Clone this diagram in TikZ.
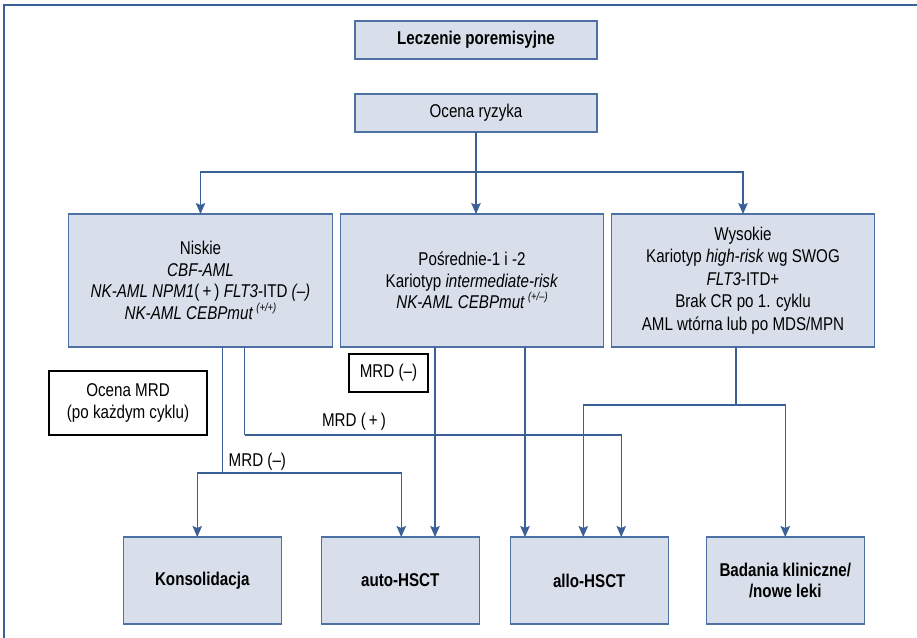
\documentclass[tikz,border=0pt]{standalone}
\usepackage{fontspec}
\setmainfont{Liberation Sans}[FakeStretch=0.82]
\usepackage{xcolor}
\usetikzlibrary{positioning, arrows.meta, calc}
\definecolor{boxFill}{RGB}{216,223,234}
\definecolor{boxLine}{RGB}{78,113,163}
\definecolor{linkColor}{RGB}{58,96,150}
\newcommand{\txtsize}{\fontsize{18.5}{21.7}\selectfont}
\newcommand{\supmut}[1]{\,\raisebox{8pt}{\fontsize{11.5}{12}\selectfont\itshape #1}}
\tikzset{
    flowbox/.style={
        draw=boxLine,
        fill=boxFill,
        line width=1.3pt,
        align=center,
        inner sep=0pt,
        outer sep=0pt,
        font=\txtsize
    },
    titlebox/.style={
        flowbox,
        minimum width=242pt,
        minimum height=38pt
    },
    riskbox/.style={
        flowbox,
        minimum width=263pt,
        minimum height=133pt
    },
    therapybox/.style={
        flowbox,
        minimum width=158pt,
        minimum height=87pt,
        font=\txtsize\bfseries
    },
    notebox/.style={
        draw=black,
        line width=1.3pt,
        fill=white,
        align=center,
        inner sep=0pt,
        outer sep=0pt,
        font=\txtsize
    },
    lbl/.style={
        font=\txtsize,
        inner sep=0pt
    },
    link/.style={
        draw=linkColor,
        line width=1.3pt
    },
    ptr/.style={
        link,
        -{Stealth[length=11pt,width=9.5pt,inset=2pt]},
        color=linkColor
    }
}

\begin{document}
\begin{tikzpicture}[x=1pt, y=-1pt]
    \useasboundingbox (0,0) rectangle (917,637);
    \draw[link] (4,645) -- (4,5) -- (925,5);

    \node[titlebox, font=\txtsize\bfseries] (title) at (476,40) {Leczenie poremisyjne};
    \node[titlebox, below=35pt of title] (ocena) {Ocena ryzyka};

    \node[riskbox, below=82pt of ocena, xshift=-4pt] (pos) {Pośrednie-1 i -2\\
        Kariotyp \textit{intermediate-risk}\\
        \textit{NK-AML CEBPmut}\supmut{(+/--)}};
    \node[riskbox, left=8pt of pos, minimum width=264pt] (niskie) {Niskie\\
        \textit{CBF-AML}\\
        \textit{NK-AML NPM1}(\,+\,) \textit{FLT3}-ITD \textit{(--)}\\
        \textit{NK-AML CEBPmut}\supmut{(+/+)}};
    \node[riskbox, right=8pt of pos, font=\fontsize{18.5}{22.4}\selectfont] (wys) {Wysokie\\
        Kariotyp \textit{high-risk} wg SWOG\\
        \textit{FLT3}-ITD+\\
        Brak CR po 1. cyklu\\
        AML wtórna lub po MDS/MPN};

    \node[therapybox] (konsol) at (202.25,580.5) {Konsolidacja};
    \node[therapybox, right=40pt of konsol] (auto) {auto-HSCT};
    \node[therapybox, right=31pt of auto] (allo) {allo-HSCT};
    \node[therapybox, right=38pt of allo] (badania) {Badania kliniczne/\\/nowe leki};

    \node[notebox, minimum width=158pt, minimum height=64pt] (mrdeval) at (128,403) {Ocena MRD\\(po każdym cyklu)};
    \node[notebox, minimum width=79pt, minimum height=38pt] (mrdbox) at (388.5,373) {MRD (--)};

    % ocena ryzyka -> grupy
    \path (ocena.south) ++(0,40) coordinate (split);
    \draw[link] (ocena) -- (split);
    \draw[ptr] (split) -| (niskie);
    \draw[ptr] (split) -- (split |- pos.north);
    \draw[ptr] (split) -| (wys);

    % grupy -> leczenie
    \path ([xshift=22pt]niskie.south) ++(0,126) coordinate (mneg);
    \path ([xshift=44pt]niskie.south) ++(0,88) coordinate (mpos);
    \path ([xshift=-7pt]wys.south) ++(0,58) coordinate (wsplit);
    \coordinate (pa) at ([xshift=-37pt]pos.south);
    \coordinate (pb) at ([xshift=53pt]pos.south);

    \draw[link] (mneg |- niskie.south) -- (mneg);
    \draw[ptr] (mneg) -| ([xshift=-5pt]konsol.north);
    \draw[ptr] (mneg) -| ([xshift=1pt]auto.north);
    \draw[link] (mpos |- niskie.south) -- (mpos);
    \draw[ptr] (mpos) -| ([xshift=32pt]allo.north);
    \draw[ptr] (pa) -- (pa |- auto.north);
    \draw[ptr] (pb) -- (pb |- allo.north);
    \draw[link] (wsplit |- wys.south) -- (wsplit);
    \draw[ptr] (wsplit) -| ([xshift=-6pt]allo.north);
    \draw[ptr] (wsplit) -| (badania.north);

    \node[lbl, anchor=base west] (lblneg) at ([xshift=6pt,yshift=7pt]mneg) {MRD (--)};
    \node[lbl, anchor=base] (lblpos) at (354,426) {MRD (\,+\,)};
\end{tikzpicture}
\end{document}
